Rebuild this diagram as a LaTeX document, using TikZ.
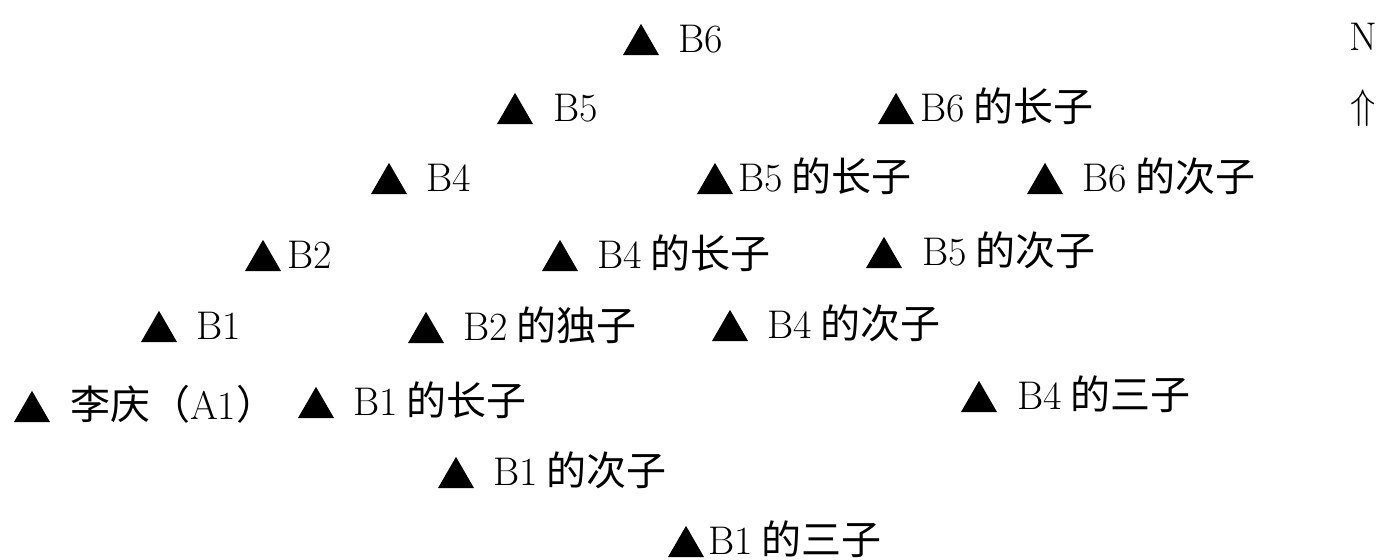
\documentclass[tikz,border=0pt]{standalone}
\usepackage{fontspec}
\newfontfamily\cjk{Noto Sans CJK SC}
\usetikzlibrary{shapes.geometric}
\newcommand\cj[1]{{\cjk #1}}
\newcommand\gp{\hspace{4.5pt}}
\tikzset{
  tri/.style={regular polygon, regular polygon sides=3, fill=black, draw=none,
    inner sep=0pt, outer sep=0pt, minimum size=20.78pt},
  lbl/.style={anchor=base west, inner sep=0pt, outer sep=0pt,
    font=\fontsize{20}{24}\selectfont},
}
\newcommand\itm[5]{%
  \node[tri] (#1t) at (#2+18,#3-10.39) {};
  \node[lbl] (#1) at (#4,#3-3) {#5};}
\begin{document}
\begin{tikzpicture}[x=0.5pt,y=-0.5pt]
\fill[white] (0,0) rectangle (1380,559);
\useasboundingbox (0,0) rectangle (1380,559);
\itm{b6}{623}{55}{678}{B6}
\itm{b5}{497}{124}{553}{B5}
\itm{bsixa}{878}{124}{920}{B6\gp\cj{的长子}}
\itm{b4}{371}{194}{426}{B4}
\itm{bfivea}{697}{194}{738}{B5\gp\cj{的长子}}
\itm{bsixb}{1027}{194}{1082}{B6\gp\cj{的次子}}
\itm{b2}{245}{271}{287}{B2}
\itm{bfoura}{542}{271}{597}{B4\gp\cj{的长子}}
\itm{bfiveb}{866}{268}{922}{B5\gp\cj{的次子}}
\itm{b1}{141}{342}{196}{B1}
\itm{btwoa}{408}{343}{463}{B2\gp\cj{的独子}}
\itm{bfourb}{712}{341}{767}{B4\gp\cj{的次子}}
\itm{aone}{14}{422}{70}{\cj{李庆（}A1\cj{）}}
\itm{bonea}{298}{418}{353}{B1\gp\cj{的长子}}
\itm{bfourc}{961}{412}{1017}{B4\gp\cj{的三子}}
\itm{boneb}{438}{488}{493}{B1\gp\cj{的次子}}
\itm{bonec}{668}{557}{708}{B1\gp\cj{的三子}}
\node[lbl, anchor=base] (north) at (1363,50) {N};
\node[lbl, anchor=base] (arrow) at (1363,118) {$\Uparrow$};
\end{tikzpicture}
\end{document}
